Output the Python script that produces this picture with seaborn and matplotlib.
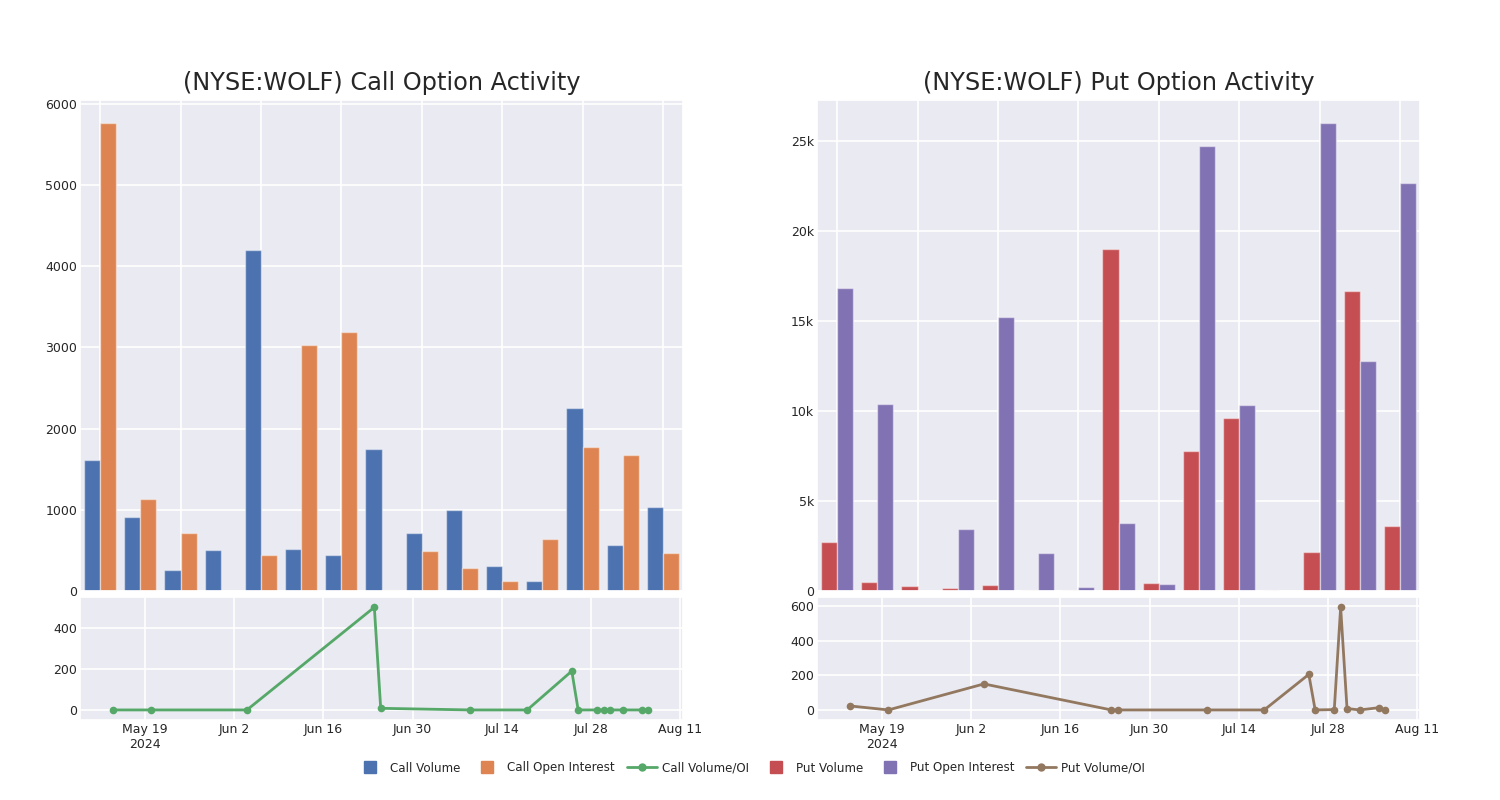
import matplotlib
matplotlib.use("Agg")
import matplotlib.pyplot as plt
import matplotlib.dates as mdates
from matplotlib.lines import Line2D
from matplotlib.ticker import FuncFormatter
import numpy as np
import pandas as pd
import seaborn as sns

# ---------------- data ----------------
bar_groups = ["G01", "G02", "G03", "G04", "G05", "G06", "G07", "G08",
              "G09", "G10", "G11", "G12", "G13", "G14", "G15"]

call_volume = [1610, 914, 255, 502, 4200, 514, 449, 1745, 708, 992, 305, 123, 2259, 572, 1033]
call_oi = [5757, 1132, 720, 0, 444, 3025, 3189, 8, 494, 288, 123, 646, 1770, 1671, 473]

put_volume = [2727, 501, 278, 186, 352, 74, 37, 18995, 427, 7772, 9627, 37, 2189, 16658, 3617]
put_oi = [16806, 10388, 0, 3432, 15211, 2133, 241, 3747, 371, 24709, 10314, 0, 25951, 12744, 22668]

ratio_dates = ["2024-05-14", "2024-05-20", "2024-06-04", "2024-06-24", "2024-06-25",
               "2024-07-09", "2024-07-18", "2024-07-25", "2024-07-26", "2024-07-29",
               "2024-07-30", "2024-07-31", "2024-08-02", "2024-08-05", "2024-08-06"]
call_ratio = [0, 0, 0, 502, 8, 0, 0, 190, 0, 0, 0, 0, 0, 0, 0]
put_ratio = [23, 0, 150, 0, 0, 0, 0, 205, 0, 2, 592, 8, 0, 13, 0]

titles = ["(NYSE:WOLF) Call Option Activity", "(NYSE:WOLF) Put Option Activity"]
legend_labels = ["Call Volume", "Call Open Interest", "Call Volume/OI",
                 "Put Volume", "Put Open Interest", "Put Volume/OI"]

# ---------------- style ----------------
sns.set_theme(style="darkgrid")
plt.rcParams["font.family"] = ["DejaVu Sans"]
deep = sns.color_palette("deep")
c_call_vol, c_call_oi, c_call_ratio = deep[0], deep[1], deep[2]
c_put_vol, c_put_oi, c_put_ratio = deep[3], deep[4], deep[5]

fig = plt.figure(figsize=(15, 8), dpi=100)

W, H = 1500.0, 800.0
def box(x0, y0, x1, y1):
    return [x0 / W, 1 - y1 / H, (x1 - x0) / W, (y1 - y0) / H]

panels = [
    dict(x0=80, x1=683, vol=call_volume, oi=call_oi, ratio=call_ratio,
         cols=(c_call_vol, c_call_oi, c_call_ratio), names=legend_labels[0:2],
         kfmt=False, rticks=[0, 200, 400], title=titles[0]),
    dict(x0=817, x1=1420, vol=put_volume, oi=put_oi, ratio=put_ratio,
         cols=(c_put_vol, c_put_oi, c_put_ratio), names=legend_labels[3:5],
         kfmt=True, rticks=[0, 200, 400, 600], title=titles[1]),
]

dates = pd.to_datetime(ratio_dates)
xmin = pd.Timestamp("2024-05-08 19:00")
xmax = pd.Timestamp("2024-08-11 11:00")
tick_dates = pd.date_range("2024-05-19", "2024-08-11", freq="14D")

def date_label(x, pos=None):
    d = mdates.num2date(x)
    lab = d.strftime("%b ") + str(d.day)
    if abs(x - mdates.date2num(tick_dates[0])) < 0.5:
        lab += "\n2024"
    return lab

TICK_FS = 9
for p in panels:
    ax_top = fig.add_axes(box(p["x0"], 100, p["x1"], 591))
    ax_bot = fig.add_axes(box(p["x0"], 597, p["x1"], 720))

    df = pd.DataFrame({
        "group": bar_groups * 2,
        "value": list(p["vol"]) + list(p["oi"]),
        "series": [p["names"][0]] * len(bar_groups) + [p["names"][1]] * len(bar_groups),
    })
    sns.barplot(data=df, x="group", y="value", hue="series", ax=ax_top,
                palette=[p["cols"][0], p["cols"][1]], width=0.8, saturation=1,
                edgecolor=(1, 1, 1, 0.45), linewidth=1.0, legend=False)
    ax_top.set_xlim(-0.5, len(bar_groups) - 0.5)
    ax_top.set_xticks(range(0, len(bar_groups), 2))
    ax_top.set_xticklabels([])
    ax_top.grid(True, axis="both", color="white", linewidth=1.2)
    ax_top.set_axisbelow(True)
    ax_top.set_xlabel("")
    ax_top.set_ylabel("")
    top = max(max(p["vol"]), max(p["oi"])) * 1.05
    ax_top.set_ylim(0, top)
    if p["kfmt"]:
        ax_top.yaxis.set_major_formatter(
            FuncFormatter(lambda v, pos: "0" if v == 0 else f"{int(v / 1000)}k"))
    ax_top.tick_params(axis="both", length=0, pad=2, labelsize=TICK_FS)
    ax_top.set_title(p["title"], fontsize=17.3, pad=7, color="#262626")

    ldf = pd.DataFrame({"date": dates, "ratio": p["ratio"]})
    sns.lineplot(data=ldf, x="date", y="ratio", ax=ax_bot, color=p["cols"][2],
                 marker="o", markersize=5.5, markeredgewidth=0, linewidth=2)
    ax_bot.set_xlim(xmin, xmax)
    ax_bot.set_xticks(tick_dates)
    ax_bot.xaxis.set_major_formatter(FuncFormatter(date_label))
    ax_bot.set_yticks(p["rticks"])
    rmax = max(p["ratio"])
    ax_bot.set_ylim(-rmax * 0.098, rmax * 1.1)
    ax_bot.grid(True, axis="both", color="white", linewidth=1.2)
    ax_bot.set_xlabel("")
    ax_bot.set_ylabel("")
    ax_bot.tick_params(axis="both", length=0, pad=2, labelsize=TICK_FS)

handles = [
    Line2D([], [], linestyle="none", marker="s", markersize=8.5, color=c_call_vol),
    Line2D([], [], linestyle="none", marker="s", markersize=8.5, color=c_call_oi),
    Line2D([], [], color=c_call_ratio, marker="o", markersize=5, linewidth=2),
    Line2D([], [], linestyle="none", marker="s", markersize=8.5, color=c_put_vol),
    Line2D([], [], linestyle="none", marker="s", markersize=8.5, color=c_put_oi),
    Line2D([], [], color=c_put_ratio, marker="o", markersize=5, linewidth=2),
]
fig.legend(handles, legend_labels, loc="center", bbox_to_anchor=(0.5, 1 - 768 / 800),
           ncol=6, frameon=False, fontsize=8.6, handlelength=2.5, handletextpad=0.42,
           columnspacing=1.0)

fig.savefig("out.png", dpi=100)
